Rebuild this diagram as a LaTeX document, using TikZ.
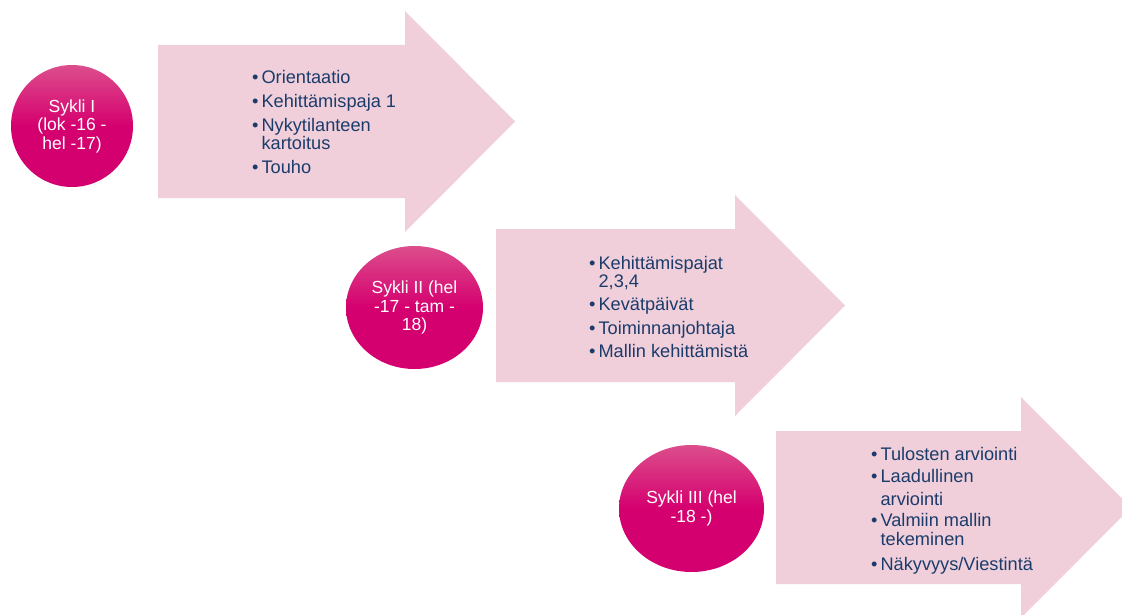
\documentclass[tikz,border=0pt]{standalone}
\usepackage{fontspec}
\setmainfont{Liberation Sans}
\usetikzlibrary{shapes.geometric}
\definecolor{nuolipink}{HTML}{F0CFDA}
\definecolor{syklitop}{HTML}{DC4E8C}
\definecolor{syklibot}{HTML}{D5006F}
\definecolor{tekstinavy}{HTML}{1B3C6B}
\tikzset{
	nuoli/.style={fill=nuolipink},
	sykli/.style={ellipse, inner sep=0pt, text=white, align=center,
		top color=syklitop, bottom color=syklibot, middle color=syklibot,
		font=\fontsize{17.5}{18.5}\selectfont},
	lista/.style={anchor=base west, inner sep=0pt, text=tekstinavy,
		font=\fontsize{18.2}{18}\selectfont}
}
\newcommand{\bul}{\textbullet}
\begin{document}
\begin{tikzpicture}[x=1pt, y=-1pt, line join=round]
			\useasboundingbox (0,0) rectangle (1122,615);
			\clip (0,0) rectangle (1122,615);
			% nuolet
			\foreach \l/\b/\c in {158/405/121.5, 496/735/305.5, 776/1021/507.5}
			\fill[nuoli] (\l,\c-76.5) -- (\b,\c-76.5) -- (\b,\c-110.5) -- (\b+110,\c)
				-- (\b,\c+110.5) -- (\b,\c+76.5) -- (\l,\c+76.5) -- cycle;
			% syklit
			\node[sykli, minimum width=122pt, minimum height=122pt] (sykli1) at (72,126) {Sykli I\\(lok -16 -\\hel -17)};
			\node[sykli, minimum width=137pt, minimum height=123pt] (sykli2) at (414.5,307.5) {Sykli II (hel\\-17 - tam -\\18)};
			\node[sykli, minimum width=145pt, minimum height=127pt] (sykli3) at (691.5,508.5) {Sykli III (hel\\-18 -)};
			% listat
			\node[lista] (lista1) at (252,84) {\begin{tabular}[t]{@{}l@{\hspace{3pt}}l@{}}
				\bul & Orientaatio\\[5pt]
				\bul & Kehittämispaja 1\\[5pt]
				\bul & Nykytilanteen\\
				& kartoitus\\[5pt]
				\bul & Touho
			\end{tabular}};
			\node[lista] (lista2) at (589,269) {\begin{tabular}[t]{@{}l@{\hspace{3pt}}l@{}}
				\bul & Kehittämispajat\\
				& 2,3,4\\[5pt]
				\bul & Kevätpäivät\\[5pt]
				\bul & Toiminnanjohtaja\\[5pt]
				\bul & Mallin kehittämistä
			\end{tabular}};
			\node[lista] (lista3) at (871,460) {\begin{tabular}[t]{@{}l@{\hspace{3pt}}l@{}}
				\bul & Tulosten arviointi\\[4pt]
				\bul & Laadullinen\\[4pt]
				& arviointi\\[3pt]
				\bul & Valmiin mallin\\
				& tekeminen\\[7pt]
				\bul & Näkyvyys/Viestintä
			\end{tabular}};
		\end{tikzpicture}
\end{document}
